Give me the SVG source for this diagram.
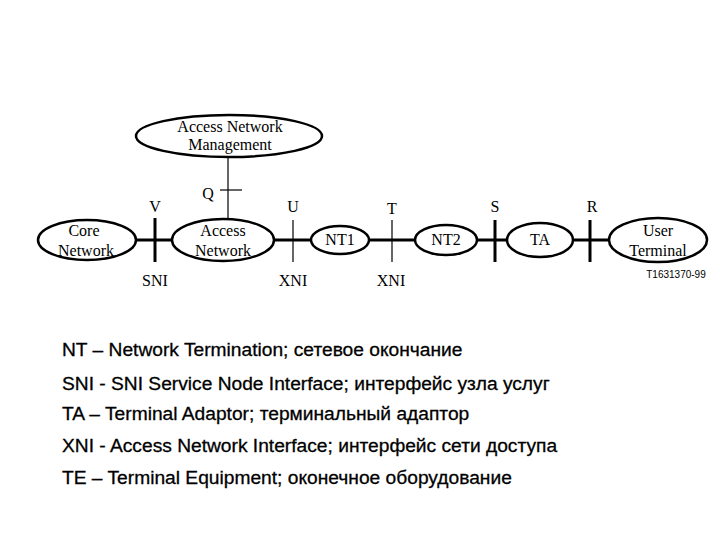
<svg xmlns="http://www.w3.org/2000/svg" width="720" height="540" viewBox="0 0 720 540">
<style>
.n{fill:#fff;stroke:#000;stroke-width:2.5}
.t{font-family:"Liberation Serif",serif;font-size:16px;text-anchor:middle;fill:#000}
.l{font-family:"Liberation Sans",sans-serif;font-size:19.2px;fill:#000;stroke:#000;stroke-width:0.3}
.k{stroke:#000;stroke-width:3}
.h{stroke:#000;stroke-width:1.2}
</style>
<rect width="720" height="540" fill="#fff"/>
<g id="connectors">
<line class="k" x1="100" y1="240" x2="640" y2="240"/>
<line class="h" x1="228" y1="157" x2="228" y2="220"/>
<line class="h" x1="220" y1="190" x2="242" y2="190"/>
<line class="k" x1="155" y1="218" x2="155" y2="262"/>
<line class="h" x1="293" y1="220" x2="293" y2="262"/>
<line class="h" x1="392" y1="220" x2="392" y2="262"/>
<line class="k" x1="495" y1="220" x2="495" y2="262"/>
<line class="k" x1="590" y1="220" x2="590" y2="262"/>
</g>
<g id="anm"><ellipse class="n" cx="229" cy="136" rx="93" ry="21"/><text class="t" x="230" y="132">Access Network</text><text class="t" x="230" y="150">Management</text></g>
<g id="core"><ellipse class="n" cx="87" cy="240" rx="49" ry="20"/><text class="t" x="84" y="236">Core</text><text class="t" x="86" y="256">Network</text></g>
<g id="an"><ellipse class="n" cx="223" cy="240" rx="51" ry="21"/><text class="t" x="223" y="236">Access</text><text class="t" x="223" y="256">Network</text></g>
<g id="nt1"><ellipse class="n" cx="340" cy="240" rx="29" ry="14"/><text class="t" x="340" y="245">NT1</text></g>
<g id="nt2"><ellipse class="n" cx="446" cy="240" rx="31" ry="15"/><text class="t" x="446" y="245">NT2</text></g>
<g id="ta"><ellipse class="n" cx="540" cy="240" rx="33" ry="17"/><text class="t" x="540" y="245">TA</text></g>
<g id="ut"><ellipse class="n" cx="658" cy="240" rx="49" ry="22"/><text class="t" x="658" y="236">User</text><text class="t" x="658" y="256">Terminal</text></g>
<g id="labels">
<text class="t" x="208" y="199">Q</text>
<text class="t" x="155" y="212">V</text>
<text class="t" x="293" y="212">U</text>
<text class="t" x="392" y="214">T</text>
<text class="t" x="495" y="212">S</text>
<text class="t" x="592" y="212">R</text>
<text class="t" x="155" y="286">SNI</text>
<text class="t" x="293" y="286">XNI</text>
<text class="t" x="391" y="286">XNI</text>
<text x="676" y="278" font-family="Liberation Sans,sans-serif" font-size="10" text-anchor="middle">T1631370-99</text>
</g>
<g id="legend">
<text class="l" x="62" y="356">NT – Network Termination; сетевое окончание</text>
<text class="l" x="62" y="390">SNI - SNI Service Node Interface; интерфейс узла услуг</text>
<text class="l" x="62" y="420">TA – Terminal Adaptor; терминальный адаптор</text>
<text class="l" x="62" y="452">XNI - Access Network Interface; интерфейс сети доступа</text>
<text class="l" x="62" y="484">TE – Terminal Equipment; оконечное оборудование</text>
</g>
</svg>
